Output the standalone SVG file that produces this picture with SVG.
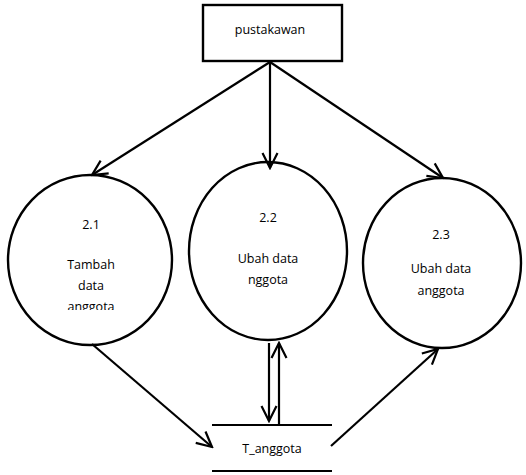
<svg xmlns="http://www.w3.org/2000/svg" width="526" height="475" viewBox="0 0 526 475">
  <style>
    .shape { fill: #fff; stroke: #000; stroke-width: 2.4; }
    .line { fill: none; stroke: #000; stroke-width: 2.2; }
    .lbl { font-family: "Open Sans", "Liberation Sans", sans-serif; font-size: 12.5px; fill: #000; text-anchor: middle; }
  </style>
  <defs>
    <!-- open V arrowhead, drawn as two strokes -->
    <marker id="open" viewBox="0 0 18 18" refX="16" refY="9" markerWidth="18" markerHeight="18" markerUnits="userSpaceOnUse" orient="auto">
      <path d="M1,1.5 L16,9 L1,16.5" fill="none" stroke="#000" stroke-width="2.2"/>
    </marker>
    <clipPath id="clip21">
      <rect x="20" y="200" width="140" height="110"/>
    </clipPath>
  </defs>
  <rect width="526" height="475" fill="#fff"/>

  <g id="pustakawan">
    <rect class="shape" x="203" y="5" width="139" height="56"/>
    <text class="lbl" x="270" y="34">pustakawan</text>
  </g>

  <g id="p21">
    <ellipse class="shape" cx="90" cy="260" rx="82" ry="85"/>
    <g clip-path="url(#clip21)">
      <text class="lbl" x="91" y="229">2.1</text>
      <text class="lbl" x="91" y="269">Tambah</text>
      <text class="lbl" x="91" y="290">data</text>
      <text class="lbl" x="91" y="311">anggota</text>
    </g>
  </g>

  <g id="p22">
    <ellipse class="shape" cx="268" cy="251" rx="79" ry="89"/>
    <text class="lbl" x="268" y="222">2.2</text>
    <text class="lbl" x="268" y="263">Ubah data</text>
    <text class="lbl" x="268" y="284">nggota</text>
  </g>

  <g id="p23">
    <ellipse class="shape" cx="442" cy="263" rx="79" ry="85"/>
    <text class="lbl" x="441" y="239">2.3</text>
    <text class="lbl" x="441" y="273">Ubah data</text>
    <text class="lbl" x="441" y="295">anggota</text>
  </g>

  <g id="t_anggota">
    <line class="line" x1="212" y1="425" x2="332" y2="425"/>
    <line class="line" x1="212" y1="471" x2="332" y2="471"/>
    <text class="lbl" x="272" y="453">T_anggota</text>
  </g>

  <g id="connectors">
    <line class="line" x1="270" y1="62" x2="92" y2="175" marker-end="url(#open)"/>
    <line class="line" x1="270" y1="62" x2="270" y2="168" marker-end="url(#open)"/>
    <line class="line" x1="270" y1="62" x2="443" y2="178" marker-end="url(#open)"/>
    <line class="line" x1="92" y1="344" x2="212" y2="447" marker-end="url(#open)"/>
    <line class="line" x1="269" y1="343" x2="269" y2="421" marker-end="url(#open)"/>
    <line class="line" x1="279" y1="424" x2="279" y2="343" marker-end="url(#open)"/>
    <line class="line" x1="331" y1="446" x2="438" y2="349" marker-end="url(#open)"/>
  </g>
</svg>
